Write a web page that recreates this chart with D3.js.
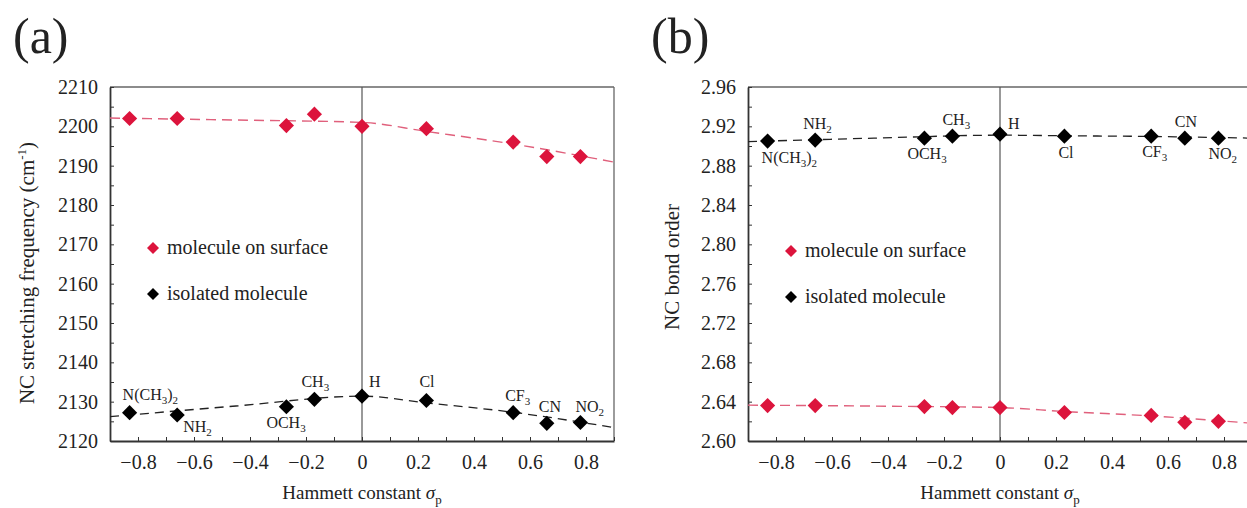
<!DOCTYPE html>
<html>
<head>
<meta charset="utf-8">
<style>
  body { margin: 0; background: #fff; }
  svg { font-family: "Liberation Serif", "Times New Roman", serif; }
  text { font-family: "Liberation Serif", "Times New Roman", serif; fill: #222; }
</style>
</head>
<body>
<svg width="1247" height="508"></svg>
<script src="https://cdnjs.cloudflare.com/ajax/libs/d3/7.8.5/d3.min.js"></script>
<script>

// substituents and their Hammett constants
var substituents = ["N(CH_3)_2", "NH_2", "OCH_3", "CH_3", "H", "Cl", "CF_3", "CN", "NO_2"];
var sigmaP = [-0.83, -0.66, -0.27, -0.17, 0, 0.23, 0.54, 0.66, 0.78];

// (a) NC stretching frequency (cm-1)
var freqSurface = [2202.0, 2202.0, 2200.2, 2203.1, 2200.0, 2199.4, 2196.0, 2192.3, 2192.3];
var freqIsolated = [2127.2, 2126.6, 2128.7, 2130.6, 2131.4, 2130.3, 2127.2, 2124.5, 2124.7];

// (b) NC bond order
var orderSurface = [2.636, 2.636, 2.635, 2.634, 2.634, 2.629, 2.626, 2.619, 2.620];
var orderIsolated = [2.905, 2.906, 2.908, 2.910, 2.912, 2.910, 2.910, 2.908, 2.908];

// dashed trend lines
var trendX = [-0.9, -0.45, 0, 0.23, 0.54, 0.9];
var trendFreqSurface = [2202.1, 2201.6, 2201.0, 2198.7, 2195.5, 2190.9];
var trendFreqIsolated = [2126.2, 2128.9, 2131.4, 2129.7, 2127.3, 2123.4];
var trendOrderSurface = [2.6365, 2.6355, 2.634, 2.630, 2.6255, 2.618];
var trendOrderIsolated = [2.9045, 2.908, 2.911, 2.9104, 2.9097, 2.908];

// axes
var xTicks = [-0.8, -0.6, -0.4, -0.2, 0, 0.2, 0.4, 0.6, 0.8];
var freqTicks = [2120, 2130, 2140, 2150, 2160, 2170, 2180, 2190, 2200, 2210];
var orderTicks = [2.60, 2.64, 2.68, 2.72, 2.76, 2.80, 2.84, 2.88, 2.92, 2.96];

// where the substituent labels sit relative to their isolated-molecule marker
var labelOffsetA = [[-7, -13], [6, 17], [-20, 21], [-13, -12], [7, -9], [-7, -13], [-8, -12], [-8, -11], [-5, -11]];
var labelOffsetB = [[-6, 22], [-12, -11], [-17, 21], [-10, -11], [8, -5], [-6, 22], [-9, 21], [-10, -11], [-10, 21]];

var red = "#dc143c";
var redLine = "#e0607c";

var svg = d3.select("svg");

function addSubText(sel, str, size) {
	// "_3" means a subscript 3
	var parts = str.split(/(_\d)/).filter(function(p) { return p !== ""; });
	var shift = 0;
	parts.forEach(function(p) {
		if (p[0] === "_") {
			sel.append("tspan").attr("font-size", Math.round(size * 0.68)).attr("dy", 4 - shift).text(p.slice(1));
			shift = 4;
		} else {
			sel.append("tspan").attr("dy", -shift).text(p);
			shift = 0;
		}
	});
}

function drawPanel(opt) {
	var left = opt.left, right = opt.left + 504, top = 87, bottom = 441;

	var x = d3.scaleLinear().domain([-0.9, 0.9]).range([left, right]);
	var y = d3.scaleLinear().domain(opt.yDomain).range([bottom, top]);

	var g = svg.append("g");

	// frame
	g.append("line").attr("x1", left).attr("x2", right).attr("y1", top).attr("y2", top)
		.attr("stroke", "#666").attr("stroke-width", 1.3);
	g.append("line").attr("x1", right).attr("x2", right).attr("y1", top).attr("y2", bottom)
		.attr("stroke", "#666").attr("stroke-width", 1.3);

	// zero line
	g.append("line").attr("x1", x(0)).attr("x2", x(0)).attr("y1", top).attr("y2", bottom)
		.attr("stroke", "#555").attr("stroke-width", 1.2);

	// x axis with inward ticks
	var xMinor = d3.range(-9, 10).map(function(d) { return d / 10; });
	g.append("g").attr("transform", "translate(0," + bottom + ")")
		.call(d3.axisTop(x).tickValues(xMinor).tickSize(4).tickFormat(""))
		.call(function(a) { a.select(".domain").remove(); a.selectAll("line").attr("stroke", "#333"); });
	var xa = g.append("g").attr("transform", "translate(0," + bottom + ")")
		.call(d3.axisBottom(x).tickValues(xTicks).tickSize(0).tickPadding(14)
			.tickFormat(function(d) { return d === 0 ? "0" : d3.format(".1f")(d).replace("-", "\u2212"); }));
	xa.select(".domain").attr("stroke", "#333").attr("stroke-width", 1.8);
	xa.selectAll("text").attr("font-size", 20).attr("fill", "#222");

	// y axis with inward ticks
	var step = opt.yTicks[1] - opt.yTicks[0];
	var yMinor = d3.range(0, (opt.yTicks.length - 1) * 2 + 1).map(function(i) { return opt.yTicks[0] + i * step / 2; });
	g.append("g").attr("transform", "translate(" + left + ",0)")
		.call(d3.axisRight(y).tickValues(yMinor).tickSize(4).tickFormat(""))
		.call(function(a) { a.select(".domain").remove(); a.selectAll("line").attr("stroke", "#333"); });
	var ya = g.append("g").attr("transform", "translate(" + left + ",0)")
		.call(d3.axisLeft(y).tickValues(opt.yTicks).tickSize(0).tickPadding(12).tickFormat(opt.yFormat));
	ya.select(".domain").attr("stroke", "#333").attr("stroke-width", 1.8);
	ya.selectAll("text").attr("font-size", 20).attr("fill", "#222");

	// axis titles
	var xt = g.append("text").attr("x", x(0)).attr("y", 499).attr("text-anchor", "middle").attr("font-size", 19);
	xt.append("tspan").text("Hammett constant ");
	xt.append("tspan").attr("font-style", "italic").text("\u03c3");
	xt.append("tspan").attr("font-size", 13).attr("dy", 5).text("p");

	var yt = g.append("text").attr("transform", "translate(" + opt.titleX + "," + opt.titleY + ") rotate(-90)")
		.attr("text-anchor", "middle").attr("font-size", 21);
	yt.append("tspan").text(opt.yTitle);
	if (opt.yTitleSup) {
		yt.append("tspan").attr("font-size", 13).attr("dy", -8).text(opt.yTitleSup);
		yt.append("tspan").attr("dy", 8).text(")");
	}

	// panel letter
	g.append("text").attr("x", opt.left - 97).attr("y", 53).attr("font-size", 50).text(opt.letter);

	// trend lines
	var line = d3.line().curve(d3.curveMonotoneX)
		.x(function(d, i) { return x(trendX[i]); }).y(function(d) { return y(d); });
	g.append("path").attr("d", line(opt.trendSurface)).attr("fill", "none")
		.attr("stroke", redLine).attr("stroke-width", 1.4).attr("stroke-dasharray", "10,6");
	g.append("path").attr("d", line(opt.trendIsolated)).attr("fill", "none")
		.attr("stroke", "#222").attr("stroke-width", 1.3).attr("stroke-dasharray", "9,6");

	// markers
	var diamond = d3.symbol().type(d3.symbolSquare).size(115);
	g.selectAll(".surf").data(opt.surface).enter().append("path")
		.attr("d", diamond)
		.attr("transform", function(d, i) { return "translate(" + x(sigmaP[i]) + "," + y(d) + ") rotate(45)"; })
		.attr("fill", red);
	g.selectAll(".iso").data(opt.isolated).enter().append("path")
		.attr("d", diamond)
		.attr("transform", function(d, i) { return "translate(" + x(sigmaP[i]) + "," + y(d) + ") rotate(45)"; })
		.attr("fill", "#000");

	// substituent labels
	substituents.forEach(function(s, i) {
		var off = opt.labelOffset[i];
		var t = g.append("text")
			.attr("x", x(sigmaP[i]) + off[0])
			.attr("y", y(opt.isolated[i]) + off[1])
			.attr("font-size", 16);
		addSubText(t, s, 16);
	});

	// legend
	var small = d3.symbol().type(d3.symbolSquare).size(72);
	var legend = [["molecule on surface", red, opt.legendY], ["isolated molecule", "#000", opt.legendY + 46]];
	legend.forEach(function(l) {
		g.append("path").attr("d", small)
			.attr("transform", "translate(" + (opt.left + 43) + "," + l[2] + ") rotate(45)")
			.attr("fill", l[1]);
		g.append("text").attr("x", opt.left + 57).attr("y", l[2] + 6).attr("font-size", 20).text(l[0]);
	});
}

drawPanel({
	left: 110, letter: "(a)",
	yDomain: [2120, 2210], yTicks: freqTicks, yFormat: d3.format("d"),
	yTitle: "NC stretching frequency (cm", yTitleSup: "-1", titleX: 34, titleY: 273,
	surface: freqSurface, isolated: freqIsolated,
	trendSurface: trendFreqSurface, trendIsolated: trendFreqIsolated,
	labelOffset: labelOffsetA, legendY: 248
});

drawPanel({
	left: 748, letter: "(b)",
	yDomain: [2.60, 2.96], yTicks: orderTicks, yFormat: d3.format(".2f"),
	yTitle: "NC bond order", titleX: 679, titleY: 267,
	surface: orderSurface, isolated: orderIsolated,
	trendSurface: trendOrderSurface, trendIsolated: trendOrderIsolated,
	labelOffset: labelOffsetB, legendY: 251
});

</script>
</body>
</html>
